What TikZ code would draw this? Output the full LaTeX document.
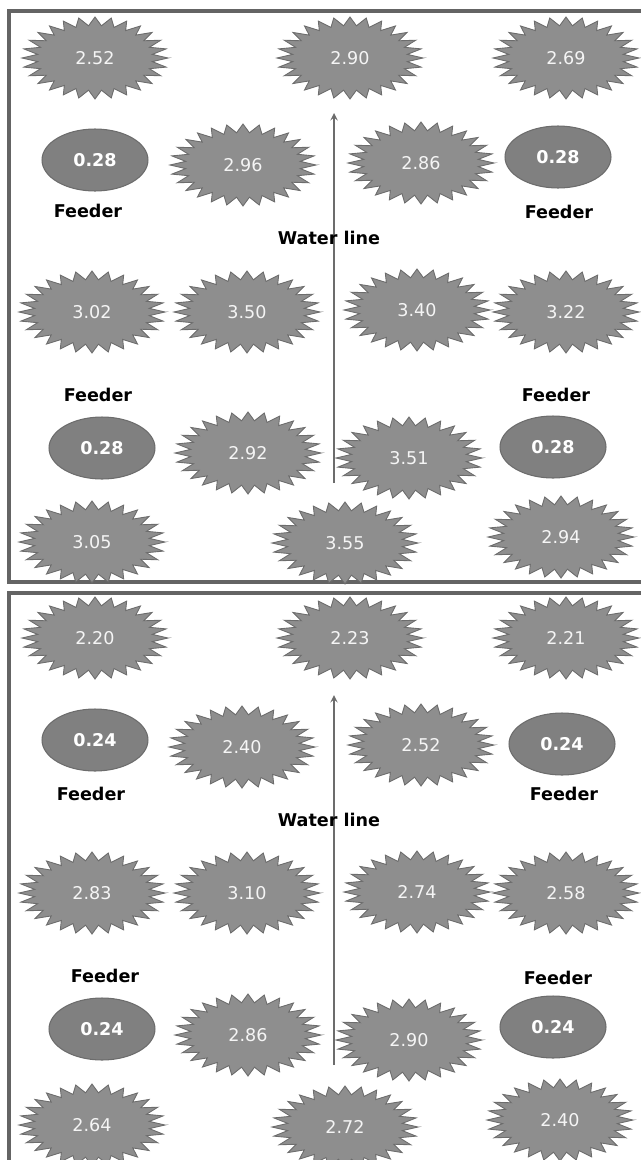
\documentclass[tikz,border=0pt]{standalone}
\usepackage{fontspec}
\setmainfont{DejaVu Sans}
\usetikzlibrary{shapes.geometric}
\definecolor{burstfill}{RGB}{142,142,142}
\definecolor{burstedge}{RGB}{108,108,108}
\definecolor{feederfill}{RGB}{128,128,128}
\definecolor{panelline}{RGB}{100,100,100}

\begin{document}
\begin{tikzpicture}[x=0.02cm,y=-0.02cm,
  burst/.style={fill=burstfill,draw=burstedge,line width=0.5pt},
  burstlabel/.style={font=\fontsize{10}{12}\selectfont,text=white!92!gray,inner sep=0pt},
  feeder/.style={ellipse,draw=burstedge,line width=0.6pt,fill=feederfill,minimum width=2.12cm,minimum height=1.24cm,inner sep=0pt,font=\fontsize{10}{12}\selectfont\bfseries,text=white},
  tag/.style={font=\fontsize{10}{12}\selectfont\bfseries,text=black,inner sep=1pt},
  flow/.style={->,>=stealth,draw=gray!85!black,line width=0.85pt},
  panel/.style={draw=panelline,line width=2pt},
]
\useasboundingbox (0,0) rectangle (641,1160);

% === panels ===
\draw[panel] (9,11) rectangle (646,582);
\draw[panel] (9,593) rectangle (646,1175);

% === water lines ===
\coordinate (wa0) at (334,483);
\coordinate (wa1) at (334,113);
\coordinate (wb0) at (334,1065);
\coordinate (wb1) at (334,695);
\draw[flow] (wa0) -- (wa1);
\draw[flow] (wb0) -- (wb1);

% === stars with their readings ===
\foreach \nm/\px/\py/\val in {
  a1/95/58/2.52, a2/350/58/2.90, a3/566/58/2.69,
  a4/243/165/2.96, a5/421/163/2.86,
  a6/92/312/3.02, a7/247/312/3.50, a8/417/310/3.40, a9/566/312/3.22,
  a10/248/453/2.92, a11/409/458/3.51,
  a12/92/542/3.05, a13/345/543/3.55, a14/561/537/2.94,
  b1/95/638/2.20, b2/350/638/2.23, b3/566/638/2.21,
  b4/242/747/2.40, b5/421/745/2.52,
  b6/92/893/2.83, b7/247/893/3.10, b8/417/892/2.74, b9/566/893/2.58,
  b10/248/1035/2.86, b11/409/1040/2.90,
  b12/92/1125/2.64, b13/345/1127/2.72, b14/560/1120/2.40}{
  \filldraw[burst] plot[domain=0:360,samples=57,variable=\t]
    ({\px+73*(0.895+0.105*cos(28*\t))*cos(\t)},{\py+41*(0.895+0.105*cos(28*\t))*sin(\t)}) -- cycle;
  \node[burstlabel] (\nm) at (\px,\py) {\val};
}

% === feeders, upper panel ===
\node[feeder] (fa1) at (95,160) {0.28};
\node[feeder] (fa2) at (558,157) {0.28};
\node[feeder] (fa3) at (102,448) {0.28};
\node[feeder] (fa4) at (553,447) {0.28};
\node[tag] (ta1) at (88,211) {Feeder};
\node[tag] (ta2) at (559,212) {Feeder};
\node[tag] (ta3) at (98,395) {Feeder};
\node[tag] (ta4) at (556,395) {Feeder};
\node[tag] (wla) at (329,238) {Water line};

% === feeders, lower panel ===
\node[feeder] (fb1) at (95,740) {0.24};
\node[feeder] (fb2) at (562,744) {0.24};
\node[feeder] (fb3) at (102,1029) {0.24};
\node[feeder] (fb4) at (553,1027) {0.24};
\node[tag] (tb1) at (91,794) {Feeder};
\node[tag] (tb2) at (564,794) {Feeder};
\node[tag] (tb3) at (105,976) {Feeder};
\node[tag] (tb4) at (558,978) {Feeder};
\node[tag] (wlb) at (329,820) {Water line};

\end{tikzpicture}
\end{document}
